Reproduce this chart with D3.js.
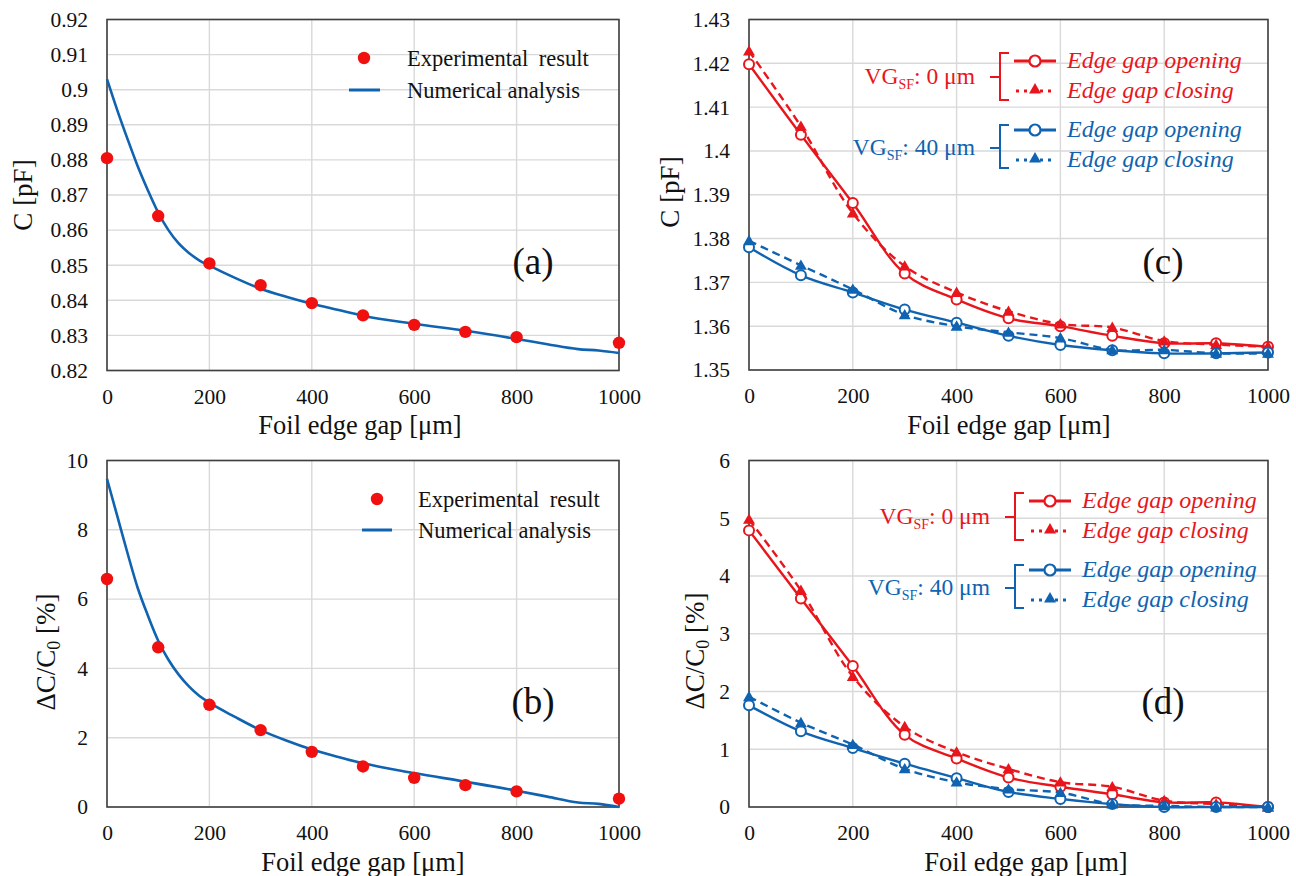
<!DOCTYPE html>
<html>
<head>
<meta charset="utf-8">
<script src="https://cdn.jsdelivr.net/npm/d3@7"></script>
<style>
body{margin:0;background:#fff;}
svg, svg text, svg tspan{font-family:"Liberation Serif","Times New Roman",Times,serif !important;}
</style>
</head>
<body>
<div id="chart"></div>
<script>
// foil edge gap positions
var gapX = [0, 100, 200, 300, 400, 500, 600, 700, 800, 900, 1000];
var expX = [0, 100, 200, 300, 400, 500, 600, 700, 800, 1000];
var xTicks = [0, 200, 400, 600, 800, 1000];

// (a) capacitance, (b) relative change
var expC  = [0.8805, 0.8640, 0.8505, 0.8443, 0.8392, 0.8357, 0.8330, 0.8310, 0.8295, 0.8279];
var expDC = [6.58, 4.61, 2.95, 2.22, 1.59, 1.17, 0.84, 0.63, 0.45, 0.24];
var numX  = [0, 20, 40, 60, 80, 100, 120, 140, 160, 180, 200, 250, 300, 350, 400, 450, 500, 600, 700, 800, 860, 920, 960, 1000];
var numC  = [0.9030, 0.8942, 0.8860, 0.8782, 0.8713, 0.8650, 0.8600, 0.8562, 0.8535, 0.8514, 0.8499, 0.8464, 0.8433, 0.8410, 0.8390, 0.8373, 0.8356, 0.8333, 0.8313, 0.8290, 0.8275, 0.8261, 0.8257, 0.8250];
var numDC = [9.47, 8.40, 7.33, 6.32, 5.52, 4.80, 4.25, 3.82, 3.48, 3.21, 3.01, 2.60, 2.22, 1.92, 1.66, 1.45, 1.26, 0.98, 0.73, 0.47, 0.30, 0.13, 0.09, 0.00];

// (c) capacitance for VG_SF 0 / 40 um
var c0Open   = [1.4198, 1.4037, 1.3881, 1.3720, 1.3661, 1.3618, 1.3600, 1.3578, 1.3561, 1.3561, 1.3553];
var c0Close  = [1.4228, 1.4056, 1.3858, 1.3737, 1.3677, 1.3634, 1.3605, 1.3597, 1.3566, 1.3558, 1.3553];
var c40Open  = [1.3780, 1.3716, 1.3677, 1.3638, 1.3608, 1.3578, 1.3557, 1.3545, 1.3538, 1.3538, 1.3540];
var c40Close = [1.3795, 1.3739, 1.3684, 1.3626, 1.3600, 1.3586, 1.3573, 1.3546, 1.3546, 1.3538, 1.3538];

// (d) relative change for VG_SF 0 / 40 um
var d0Open   = [4.79, 3.61, 2.44, 1.25, 0.84, 0.51, 0.35, 0.22, 0.08, 0.08, 0.00];
var d0Close  = [4.98, 3.75, 2.26, 1.39, 0.95, 0.66, 0.43, 0.35, 0.11, 0.05, 0.00];
var d40Open  = [1.76, 1.31, 1.02, 0.75, 0.50, 0.26, 0.14, 0.05, 0.00, 0.00, 0.00];
var d40Close = [1.91, 1.46, 1.08, 0.66, 0.43, 0.31, 0.25, 0.05, 0.02, 0.00, 0.00];

var yTicksA = [0.82, 0.83, 0.84, 0.85, 0.86, 0.87, 0.88, 0.89, 0.90, 0.91, 0.92];
var yTicksB = [0, 2, 4, 6, 8, 10];
var yTicksC = [1.35, 1.36, 1.37, 1.38, 1.39, 1.40, 1.41, 1.42, 1.43];
var yTicksD = [0, 1, 2, 3, 4, 5, 6];

var serif = "'Liberation Serif', 'Times New Roman', Times, serif";
var red = "#e8161c";
var dotRed = "#f01010";
var blue = "#0f63b0";
var ink = "#111";
var gridColor = "#d9d9d9";
var borderColor = "#404040";

var svg = d3.select("#chart").append("svg")
    .attr("width", 1296)
    .attr("height", 876)
    .style("font-family", serif);

function zip(xs, ys){
    return xs.map(function(v, i){ return [v, ys[i]]; });
}

function trimNum(v){
    return String(+v.toFixed(2));
}

function label(sel){
    return sel.append("text").style("font-family", serif);
}

function drawFrame(p){
    var x = d3.scaleLinear().domain([0, 1000]).range([p.left, p.right]);
    var y = d3.scaleLinear().domain(p.yDomain).range([p.bottom, p.top]);
    var g = svg.append("g");

    //grid lines
    g.selectAll("line.hgrid").data(p.yTicks).enter().append("line")
        .attr("x1", p.left).attr("x2", p.right)
        .attr("y1", function(d){ return y(d); })
        .attr("y2", function(d){ return y(d); })
        .attr("stroke", gridColor).attr("stroke-width", 1.4);
    g.selectAll("line.vgrid").data(xTicks).enter().append("line")
        .attr("y1", p.top).attr("y2", p.bottom)
        .attr("x1", function(d){ return x(d); })
        .attr("x2", function(d){ return x(d); })
        .attr("stroke", gridColor).attr("stroke-width", 1.4);

    //axes (labels only)
    var ax = g.append("g").attr("transform", "translate(0," + p.bottom + ")")
        .call(d3.axisBottom(x).tickValues(xTicks).tickSize(0).tickPadding(18).tickFormat(d3.format("d")));
    var ay = g.append("g").attr("transform", "translate(" + p.left + ",0)")
        .call(d3.axisLeft(y).tickValues(p.yTicks).tickSize(0).tickPadding(19).tickFormat(trimNum));
    [ax, ay].forEach(function(a){
        a.select(".domain").remove();
        a.attr("font-family", serif).attr("font-size", 21.5);
        a.selectAll("text").attr("fill", ink).style("font-family", serif);
    });

    //border
    g.append("rect")
        .attr("x", p.left).attr("y", p.top)
        .attr("width", p.right - p.left).attr("height", p.bottom - p.top)
        .attr("fill", "none").attr("stroke", borderColor).attr("stroke-width", 1.6);

    //titles
    label(g)
        .attr("x", p.xTitle[0]).attr("y", p.xTitle[1])
        .attr("text-anchor", "middle").attr("font-size", 26.5).attr("fill", ink)
        .text("Foil edge gap [\u03bcm]");
    var yt = label(g)
        .attr("transform", "translate(" + p.yTitle[0] + "," + p.yTitle[1] + ") rotate(-90)")
        .attr("text-anchor", "middle").attr("font-size", 27).attr("fill", ink);
    if(p.relative){
        yt.append("tspan").text("\u0394C/C");
        yt.append("tspan").attr("font-size", 18).attr("dy", 5).text("0");
        yt.append("tspan").attr("dy", -5).text(" [%]");
    } else {
        yt.text("C [pF]");
    }

    label(g)
        .attr("x", p.tag[0]).attr("y", p.tag[1])
        .attr("text-anchor", "middle").attr("font-size", 37).attr("fill", ink)
        .text("(" + p.id + ")");

    p.x = x; p.y = y; p.g = g;
    return p;
}

function drawSimulation(p, expY, numY){
    var line = d3.line()
        .x(function(d){ return p.x(d[0]); })
        .y(function(d){ return p.y(d[1]); })
        .curve(d3.curveMonotoneX);
    p.g.append("path")
        .datum(zip(numX, numY))
        .attr("d", line)
        .attr("fill", "none").attr("stroke", blue).attr("stroke-width", 2.6);
    p.g.selectAll("circle.exp").data(zip(expX, expY)).enter().append("circle")
        .attr("cx", function(d){ return p.x(d[0]); })
        .attr("cy", function(d){ return p.y(d[1]); })
        .attr("r", 6.2)
        .attr("fill", dotRed);

    //legend
    var L = p.legend;
    p.g.append("circle").attr("cx", L.dot).attr("cy", L.y1).attr("r", 6.2).attr("fill", dotRed);
    p.g.append("line").attr("x1", L.line[0]).attr("x2", L.line[1])
        .attr("y1", L.y2).attr("y2", L.y2)
        .attr("stroke", blue).attr("stroke-width", 3);
    label(p.g).attr("x", L.text).attr("y", L.y1 + 8)
        .attr("font-size", 22.5).attr("word-spacing", 5).attr("fill", ink)
        .text("Experimental result");
    label(p.g).attr("x", L.text).attr("y", L.y2 + 8)
        .attr("font-size", 22.5).attr("fill", ink)
        .text("Numerical analysis");
}

var triangle = d3.symbol().type(d3.symbolTriangle).size(62);

function drawSeries(p, vals, color, closing){
    var line = d3.line()
        .x(function(d){ return p.x(d[0]); })
        .y(function(d){ return p.y(d[1]); })
        .curve(d3.curveCatmullRom.alpha(0.5));
    var pts = zip(gapX, vals);
    p.g.append("path")
        .datum(pts)
        .attr("d", line)
        .attr("fill", "none").attr("stroke", color).attr("stroke-width", 2.4)
        .attr("stroke-dasharray", closing ? "8,5" : null);
    if(closing){
        p.g.selectAll(null).data(pts).enter().append("path")
            .attr("d", triangle)
            .attr("transform", function(d){ return "translate(" + p.x(d[0]) + "," + (p.y(d[1]) + 1) + ")"; })
            .attr("fill", color);
    } else {
        p.g.selectAll(null).data(pts).enter().append("circle")
            .attr("cx", function(d){ return p.x(d[0]); })
            .attr("cy", function(d){ return p.y(d[1]); })
            .attr("r", 5)
            .attr("fill", "#fff").attr("stroke", color).attr("stroke-width", 2);
    }
}

function drawGroupLegend(p, dx, dy, color, text, yMid, yTop, yBot, yOpen, yClose){
    var g = p.g.append("g").attr("transform", "translate(" + dx + "," + dy + ")");
    var vg = label(g).attr("x", 975).attr("y", yMid + 7)
        .attr("text-anchor", "end").attr("font-size", 23.5).attr("fill", color);
    vg.append("tspan").text("VG");
    vg.append("tspan").attr("font-size", 14).attr("dy", 5).text("SF");
    vg.append("tspan").attr("dy", -5).text(": " + text);

    g.append("path")
        .attr("d", "M1009," + yTop + " H1000 V" + yBot + " H1009 M990," + yMid + " H1000")
        .attr("fill", "none").attr("stroke", color).attr("stroke-width", 2);

    g.append("line").attr("x1", 1014).attr("x2", 1056).attr("y1", yOpen).attr("y2", yOpen)
        .attr("stroke", color).attr("stroke-width", 3);
    g.append("circle").attr("cx", 1035).attr("cy", yOpen).attr("r", 5.5)
        .attr("fill", "#fff").attr("stroke", color).attr("stroke-width", 2.2);
    g.append("line").attr("x1", 1016).attr("x2", 1056).attr("y1", yClose).attr("y2", yClose)
        .attr("stroke", color).attr("stroke-width", 3).attr("stroke-dasharray", "3,5");
    g.append("path").attr("d", triangle)
        .attr("transform", "translate(1035," + (yClose - 1) + ")")
        .attr("fill", color);

    label(g).attr("x", 1067).attr("y", yOpen + 7)
        .attr("font-size", 24).attr("font-style", "italic").attr("fill", color)
        .text("Edge gap opening");
    label(g).attr("x", 1067).attr("y", yClose + 7)
        .attr("font-size", 24).attr("font-style", "italic").attr("fill", color)
        .text("Edge gap closing");
}

var pa = drawFrame({id: "a", left: 107, right: 619, top: 19.5, bottom: 370.5,
    yDomain: [0.82, 0.92], yTicks: yTicksA, xTitle: [360, 434], yTitle: [32, 195], tag: [533, 274],
    legend: {dot: 364, text: 407, line: [349, 380], y1: 58, y2: 90}});
var pb = drawFrame({id: "b", left: 107, right: 619, top: 460.5, bottom: 807, relative: true,
    yDomain: [0, 10], yTicks: yTicksB, xTitle: [363, 871], yTitle: [55, 652], tag: [533, 714],
    legend: {dot: 377, text: 418, line: [362, 392], y1: 499, y2: 530}});
var pc = drawFrame({id: "c", left: 749, right: 1268, top: 19.5, bottom: 370,
    yDomain: [1.35, 1.43], yTicks: yTicksC, xTitle: [1009, 434], yTitle: [679, 192], tag: [1163, 274]});
var pd = drawFrame({id: "d", left: 749, right: 1268, top: 460.5, bottom: 807, relative: true,
    yDomain: [0, 6], yTicks: yTicksD, xTitle: [1026, 871], yTitle: [704, 651], tag: [1163, 714]});

drawSimulation(pa, expC, numC);
drawSimulation(pb, expDC, numDC);

drawSeries(pc, c0Open, red, false);
drawSeries(pc, c0Close, red, true);
drawSeries(pc, c40Open, blue, false);
drawSeries(pc, c40Close, blue, true);
drawSeries(pd, d0Open, red, false);
drawSeries(pd, d0Close, red, true);
drawSeries(pd, d40Open, blue, false);
drawSeries(pd, d40Close, blue, true);

drawGroupLegend(pc, 0, 0, red, "0 \u03bcm", 77, 53, 100, 61, 91);
drawGroupLegend(pc, 0, 0, blue, "40 \u03bcm", 148, 125, 168, 130, 160);
drawGroupLegend(pd, 15, 440, red, "0 \u03bcm", 77, 53, 100, 61, 91);
drawGroupLegend(pd, 15, 440, blue, "40 \u03bcm", 148, 125, 168, 130, 160);
</script>
</body>
</html>
